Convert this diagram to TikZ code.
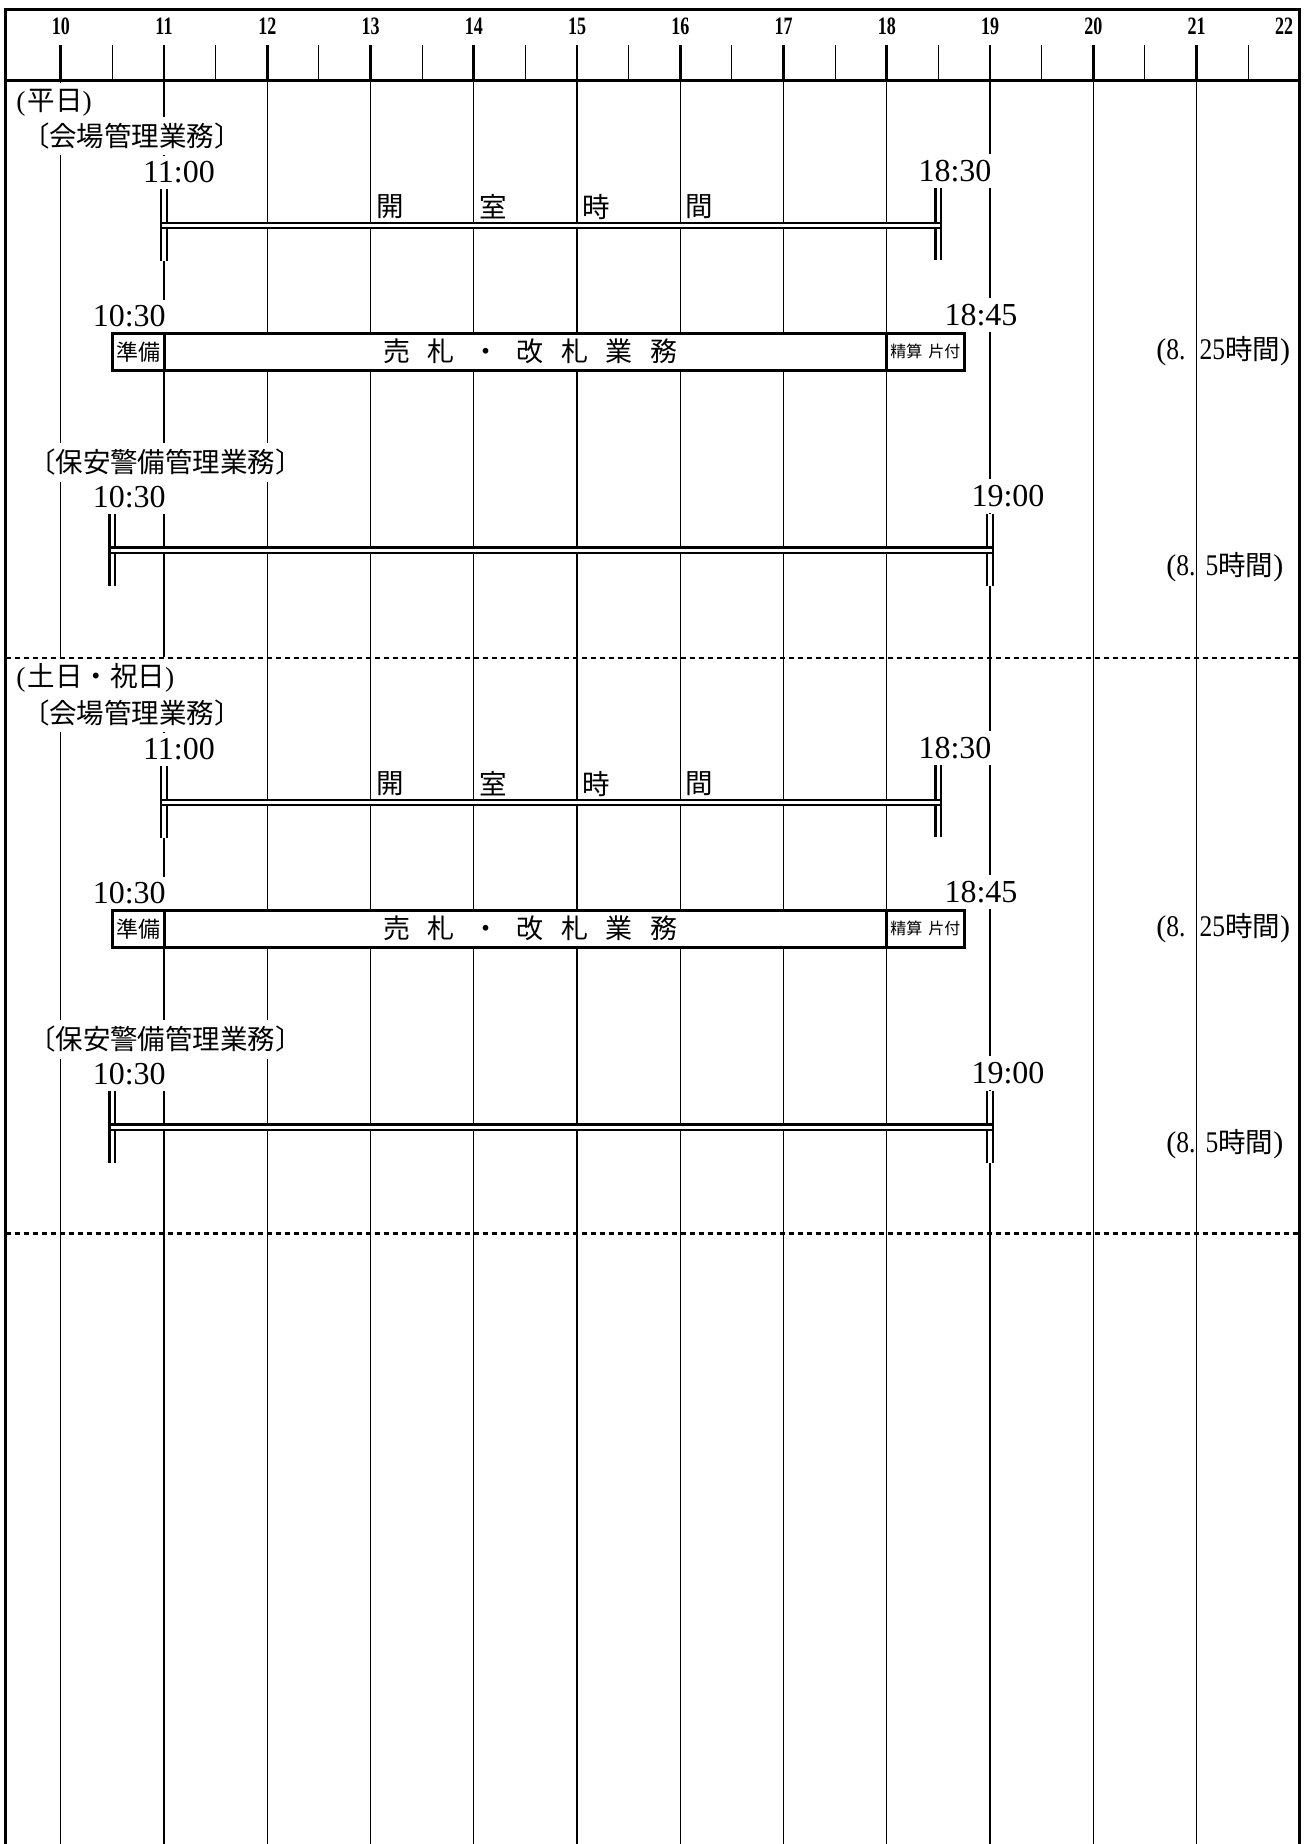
\documentclass[tikz,border=0pt]{standalone}
\usepackage{fontspec}
\usepackage{graphicx}
\setmainfont{Liberation Serif}
\newfontfamily\jp{Noto Sans CJK JP}
\newcommand{\nrw}[1]{\scalebox{0.85}[1]{#1}}
\begin{document}
\begin{tikzpicture}[x=0.5pt,y=-0.5pt,
  frame/.style={line width=1.6pt},
  gridline/.style={line width=0.6pt},
  hourtick/.style={line width=1.4pt},
  halftick/.style={line width=0.6pt},
  sepline/.style={line width=1.4pt, dash pattern=on 2.8pt off 1.7pt},
  dbl/.style={double=white, double distance=1.7pt, line width=1.1pt},
  cell/.style={draw, line width=1.5pt, fill=white, inner sep=0pt, minimum height=18.35pt},
  lbl/.style={fill=white, inner xsep=3pt, inner ysep=3pt},
  ttl/.style={lbl, font=\jp\fontsize{13.75pt}{16pt}\selectfont},
  tm/.style={lbl, font=\fontsize{16pt}{18pt}\selectfont},
  hdr/.style={inner sep=0pt, font=\bfseries\fontsize{12.5pt}{14pt}\selectfont},
  dur/.style={inner sep=0pt, anchor=west, font=\fontsize{15pt}{17pt}\selectfont},
  kanji/.style={inner sep=0pt, font=\jp\fontsize{13.75pt}{16pt}\selectfont},
]
\useasboundingbox (0,0) rectangle (1312,1844);
\fill[white] (0,0) rectangle (1312,1844);

% grid and header ticks
\foreach \h in {10,...,21}{
  \draw[gridline] ({60.75+103.25*(\h-10)},80.7) -- ({60.75+103.25*(\h-10)},1850);
  \draw[hourtick] ({60.75+103.25*(\h-10)},45) -- ({60.75+103.25*(\h-10)},80.7);
  \draw[halftick] ({60.75+103.25*(\h-9.5)},45) -- ({60.75+103.25*(\h-9.5)},80.7);
  \node[hdr] (hl\h) at ({60.75+103.25*(\h-10)},26.5) {\scalebox{0.72}[1]{\h}};
}
\node[hdr] (hl22) at (1284,26.5) {\scalebox{0.72}[1]{22}};

% frame
\draw[frame] (5.5,1850) -- (5.5,9.3) -- (1299.75,9.3) -- (1299.75,1850);
\draw[frame] (5.5,80.7) -- (1299.75,80.7);

% headings
\node[ttl, anchor=west] (headA) at (10,103) {{\rmfamily(}\hspace{1pt}平日{\rmfamily)}};
\node[ttl, anchor=west] (headB) at (10,677.5) {{\rmfamily(}\hspace{1pt}土日・祝日{\rmfamily)}};

% separators
\coordinate (sepAL) at (5.5,658);
\coordinate (sepAR) at (1299.75,658);
\coordinate (sepBL) at (5.5,1233.5);
\coordinate (sepBR) at (1299.75,1233.5);
\draw[sepline] (sepAL) -- (sepAR);
\draw[sepline] (sepBL) -- (sepBR);

\foreach \s/\dy in {A/0,B/577}{
\begin{scope}[shift={(0,\dy)}]
  % labels
  \node[ttl] (kaijo\s) at (132,136) {〔会場管理業務〕};
  \node[tm] (tOpen\s) at (179,172.5) {11:00};
  \node[tm] (tClose\s) at (955,171) {18:30};
  \node[kanji] (kA\s) at (389.8,206.7) {開};
  \node[kanji] (kB\s) at (493.05,206.7) {室};
  \node[kanji] (kC\s) at (596.3,206.7) {時};
  \node[kanji] (kD\s) at (699.55,206.7) {間};
  \node[tm] (tPrep\s) at (129.2,316.5) {10:30};
  \node[tm] (tEnd\s) at (981,314.7) {18:45};
  \node[ttl] (hoan\s) at (165.5,462.5) {〔保安警備管理業務〕};
  \node[tm] (tGs\s) at (129.2,497.5) {10:30};
  \node[tm] (tGe\s) at (1008,496) {19:00};
  % opening-hours bar
  \coordinate (oL\s) at (164,225.5);
  \coordinate (oR\s) at (938.375,225.5);
  \coordinate (oLt\s) at (164,189);
  \coordinate (oLb\s) at (164,261);
  \coordinate (oRt\s) at (938.375,188);
  \coordinate (oRb\s) at (938.375,260);
  \draw[dbl] (oLt\s) -- (oLb\s);
  \draw[dbl] (oRt\s) -- (oRb\s);
  \draw[dbl] ([xshift=-0.85pt]oL\s) -- ([xshift=0.85pt]oR\s);
  % ticket box
  \node[cell, minimum width=25.81pt, font=\jp\fontsize{11pt}{12pt}\selectfont] (prep\s) at (138.19,351.7) {準備};
  \node[cell, minimum width=361.375pt, font=\jp\fontsize{13.5pt}{15pt}\selectfont] (sell\s) at (525.375,351.7)
    {\hspace{5pt}売\hspace{8.75pt}札\hspace{8.75pt}・\hspace{8.75pt}改\hspace{8.75pt}札\hspace{8.75pt}業\hspace{8.75pt}務};
  \node[cell, minimum width=38.72pt, font=\jp\fontsize{8pt}{9pt}\selectfont] (settle\s) at (925.47,351.7) {精算\hspace{3pt}片付};
  \node[dur] (durK\s) at (1156,351) {(\nrw{8.}\hspace{7pt}\nrw{25}{\jp\fontsize{13.75pt}{16pt}\selectfont 時間})};
  % guard bar
  \coordinate (gL\s) at (112.375,550.3);
  \coordinate (gR\s) at (990,550.3);
  \coordinate (gLt\s) at (112.375,514);
  \coordinate (gLb\s) at (112.375,586);
  \coordinate (gRt\s) at (990,514);
  \coordinate (gRb\s) at (990,586);
  \draw[dbl] (gLt\s) -- (gLb\s);
  \draw[dbl] (gRt\s) -- (gRb\s);
  \draw[dbl] ([xshift=-0.85pt]gL\s) -- ([xshift=0.85pt]gR\s);
  \node[dur] (durG\s) at (1166,567.5) {(\nrw{8.}\hspace{5pt}\nrw{5}{\jp\fontsize{13.75pt}{16pt}\selectfont 時間})};
\end{scope}
}
\end{tikzpicture}
\end{document}
